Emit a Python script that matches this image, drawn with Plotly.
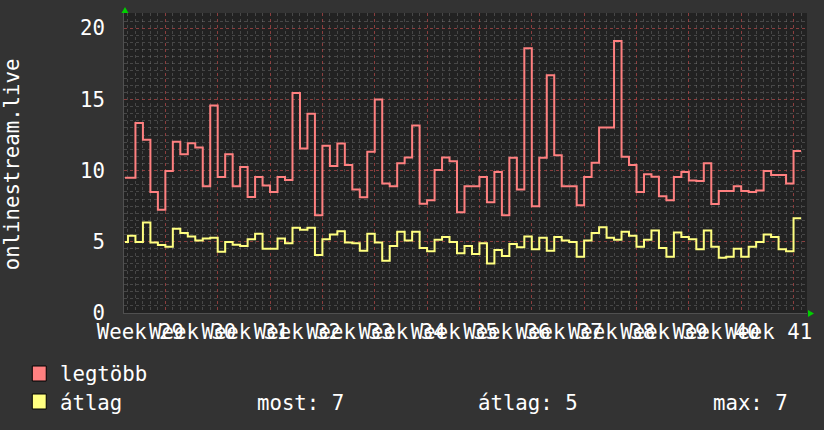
import plotly.graph_objects as go

# ---------------- data ----------------
days = [-5.4] + list(range(-5, 85))   # left edge of each step (days, week 29 start = 0)
end_day = 85                           # right edge of the last step

legtobb = [9.5, 9.5, 13.35, 12.17, 8.49, 7.26, 9.97, 12.03, 11.15, 11.93, 11.63, 8.91, 14.58, 9.55, 11.15, 8.91,
           10.26, 8.15, 9.55, 8.96, 8.49, 9.55, 9.34, 15.45, 11.56, 13.99, 6.86, 11.74, 10.33, 11.91, 10.40,
           8.68, 8.13, 11.32, 15.00, 9.10, 8.91, 10.52, 10.92, 13.16, 7.68, 7.92, 10.04, 10.92, 10.66, 7.07,
           8.91, 8.91, 9.55, 7.78, 9.90, 6.86, 10.90, 8.68, 18.59, 7.50, 10.90, 16.70, 11.08, 8.91, 8.91,
           7.57, 9.55, 10.56, 13.02, 13.02, 19.11, 10.97, 10.40, 8.49, 9.74, 9.57, 8.20, 7.92, 9.55, 9.90,
           9.31, 9.27, 10.52, 7.66, 8.56, 8.56, 8.91, 8.56, 8.49, 8.60, 9.97, 9.69, 9.69, 9.10, 11.37]

atlag = [4.99, 5.42, 4.99, 6.36, 4.95, 4.78, 4.66, 5.91, 5.61, 5.37, 5.09, 5.23, 5.28, 4.31, 4.99, 4.80,
         4.71, 5.18, 5.56, 4.52, 4.52, 5.23, 4.90, 5.98, 5.84, 5.98, 4.07, 5.18, 5.51, 5.75, 4.95,
         4.90, 4.38, 5.56, 4.95, 3.67, 4.71, 5.70, 5.09, 5.70, 4.57, 4.33, 5.14, 5.33, 4.99, 4.19,
         4.71, 4.14, 4.90, 3.48, 4.43, 4.00, 4.85, 4.62, 5.37, 4.48, 5.28, 4.38, 5.33, 5.09, 4.99,
         3.95, 5.09, 5.61, 6.03, 5.28, 5.14, 5.70, 5.42, 4.66, 5.14, 5.80, 4.57, 3.95, 5.65, 5.33,
         5.18, 4.48, 5.80, 4.66, 3.88, 3.95, 4.52, 3.95, 4.66, 4.99, 5.51, 5.33, 4.48, 4.33, 6.65]

week_days = [0, 7, 14, 21, 28, 35, 42, 49, 56, 63, 70, 77, 84]
week_labels = ["Week 29", "Week 30", "Week 31", "Week 32", "Week 33", "Week 34", "Week 35",
               "Week 36", "Week 37", "Week 38", "Week 39", "Week 40", "Week 41"]
y_ticks = [0, 5, 10, 15, 20]
series_names = ["legtöbb", "átlag"]
title_text = "onlinestream.live"

# ---------------- style ----------------
W, H = 824, 430
L, R, T, B = 124, 809, 13, 313
FONT = "DejaVu Sans Mono"
FS = 20.7
BG = "#333333"
CANVAS = "#222222"
FG = "#FFFFFF"
RED = "#FF8080"
YEL = "#FFFF80"
MGRID = "rgba(220,50,50,0.45)"
GRID = "rgba(140,140,140,0.35)"
GREEN = "#00D000"


def px(x):
    return (x - L) / (R - L)


def py(y):
    return (B - y) / (B - T)


fig = go.Figure()
for name, vals, col in [(series_names[0], legtobb, RED), (series_names[1], atlag, YEL)]:
    fig.add_trace(go.Scatter(
        x=days + [end_day], y=vals + [vals[-1]], mode="lines", name=name,
        line=dict(color=col, width=2, shape="hv"), showlegend=False, hoverinfo="skip"))

shapes = []
# legend squares
for (y0, y1), col in [((366, 381), RED), ((394, 409), YEL)]:
    shapes.append(dict(type="rect", xref="paper", yref="paper",
                       x0=px(32), x1=px(46), y0=py(y1), y1=py(y0),
                       fillcolor=col, line=dict(color="#000000", width=1)))
# green axis arrows
shapes.append(dict(type="path", xref="paper", yref="paper",
                   path=f"M {px(121.5)},{py(13)} L {px(128.5)},{py(13)} L {px(125)},{py(7)} Z",
                   fillcolor=GREEN, line=dict(color=GREEN, width=0)))
shapes.append(dict(type="path", xref="paper", yref="paper",
                   path=f"M {px(810)},{py(310)} L {px(810)},{py(317)} L {px(816)},{py(313.5)} Z",
                   fillcolor=GREEN, line=dict(color=GREEN, width=0)))

tf = dict(family=FONT, size=FS, color=FG)
ann = [dict(text=title_text, xref="paper", yref="paper", x=px(12), y=py(164),
            xanchor="center", yanchor="middle", textangle=-90, showarrow=False, font=tf)]
cur = round(atlag[-1])
avg = round(sum(atlag) / len(atlag))
mx = round(max(atlag))
for txt, x, y in [(series_names[0], 58, 374), (series_names[1], 58, 403),
                  (f"most: {cur}", 255, 403), (f"átlag: {avg}", 477, 403), (f"max: {mx}", 713, 403)]:
    ann.append(dict(text=txt, xref="paper", yref="paper", x=px(x), y=py(y),
                    xanchor="left", yanchor="middle", showarrow=False, font=tf))

fig.update_layout(
    width=W, height=H, margin=dict(l=L, r=W - R, t=T, b=H - B, pad=0),
    paper_bgcolor=BG, plot_bgcolor=CANVAS, showlegend=False,
    shapes=shapes, annotations=ann, font=tf,
    xaxis=dict(range=[-5.53, 85.8], tickvals=week_days, ticktext=week_labels, tickangle=0,
               showgrid=True, gridcolor=MGRID, griddash="dot", gridwidth=1,
               minor=dict(dtick=1, tick0=0, showgrid=True, gridcolor=GRID, griddash="dot", gridwidth=1),
               zeroline=False, showline=True, linecolor="#505050", linewidth=1,
               ticks="", ticklabelshift=-25, ticklabelstandoff=0, tickfont=tf, fixedrange=True),
    yaxis=dict(range=[0, 21.07], tickvals=y_ticks, showgrid=True, gridcolor=MGRID, griddash="dot",
               gridwidth=1,
               minor=dict(dtick=0.5, tick0=0, showgrid=True, gridcolor=GRID, griddash="dot", gridwidth=1),
               zeroline=False, showline=True, linecolor="#505050", linewidth=1,
               ticks="", ticklabelstandoff=14, tickfont=tf, fixedrange=True),
)

fig.write_html("out.html", config={"displayModeBar": False},
               post_script="document.body.style.margin='0px';")
